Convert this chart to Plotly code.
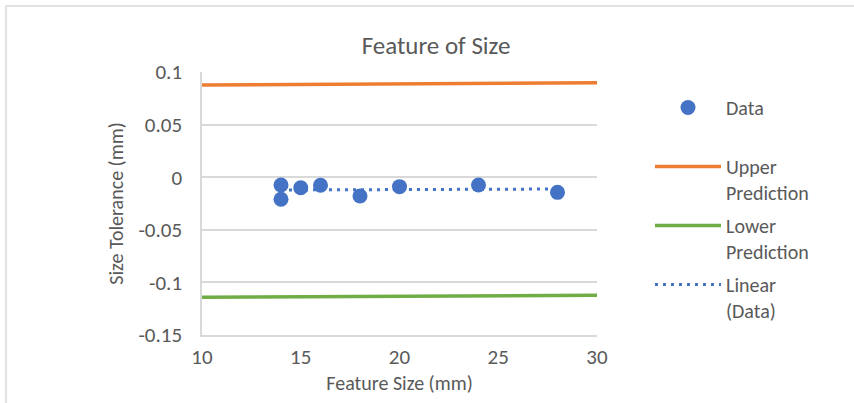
import numpy as np
import plotly.graph_objects as go

# Data
feature_size = [14, 14, 15, 16, 18, 20, 24, 28]
size_tol = [-0.0074, -0.0210, -0.0100, -0.0077, -0.0179, -0.0090, -0.0074, -0.0144]

upper_x = [10, 30]
upper_y = [0.0876, 0.0898]
lower_x = [10, 30]
lower_y = [-0.1142, -0.1123]

x_ticks = [10, 15, 20, 25, 30]
y_ticks = [0.1, 0.05, 0, -0.05, -0.1, -0.15]
y_tick_labels = ["0.1", "0.05", "0", "-0.05", "-0.1", "-0.15"]

# Linear trendline of the data (as Excel computes it)
slope, intercept = np.polyfit(feature_size, size_tol, 1)
trend_x = [min(feature_size), max(feature_size)]
trend_y = [slope * x + intercept for x in trend_x]

FONT = "Calibri, Carlito, Lato, sans-serif"
TXT = "#595959"
GRID = "#d9d9d9"

fig = go.Figure()
fig.add_trace(go.Scatter(x=feature_size, y=size_tol, mode="markers", name="Data<br> ",
                         marker=dict(color="#4472C4", size=15), legendgroup="a"))
fig.add_trace(go.Scatter(x=upper_x, y=upper_y, mode="lines", name="Upper<br>Prediction",
                         line=dict(color="#ED7D31", width=3.5), legendgroup="b"))
fig.add_trace(go.Scatter(x=lower_x, y=lower_y, mode="lines", name="Lower<br>Prediction",
                         line=dict(color="#70AD47", width=3.5), legendgroup="c"))
fig.add_trace(go.Scatter(x=trend_x, y=trend_y, mode="lines", name="Linear<br>(Data)",
                         line=dict(color="#4472C4", width=3, dash="3px,5px"), legendgroup="d"))

fig.update_layout(
    width=854, height=403,
    margin=dict(l=202, r=257, t=72, b=68, autoexpand=False),
    paper_bgcolor="white", plot_bgcolor="white",
    font=dict(family=FONT, color=TXT, size=20),
    title=dict(text="Feature of Size", x=436 / 854, xanchor="center",
               y=1 - 45 / 403, yanchor="middle", yref="container", automargin=False,
               font=dict(size=25, color=TXT, family=FONT)),
    showlegend=True,
    legend=dict(x=(650 - 202) / 395, xanchor="left", y=(335 - 88) / 263, yanchor="top",
                font=dict(size=20, color=TXT, family=FONT), itemwidth=66,
                valign="top", tracegroupgap=4, bgcolor="rgba(0,0,0,0)"),
    xaxis=dict(range=[10, 30], tickvals=x_ticks, showgrid=False, zeroline=False,
               showline=True, linecolor=GRID, linewidth=1.5, automargin=False,
               ticks="outside", ticklen=2, tickcolor="rgba(0,0,0,0)",
               tickfont=dict(size=21, color=TXT),
               title=dict(text="Feature Size (mm)", font=dict(size=20, color=TXT), standoff=7)),
    yaxis=dict(range=[-0.15, 0.1], tickvals=y_ticks, ticktext=y_tick_labels,
               showgrid=True, gridcolor=GRID, gridwidth=1.5, zeroline=False,
               showline=True, linecolor=GRID, linewidth=1.5, automargin=False,
               ticks="", ticklabelstandoff=14, tickfont=dict(size=21, color=TXT),
               title=dict(text="Size Tolerance (mm)", font=dict(size=20, color=TXT), standoff=9)),
    shapes=[dict(type="rect", xref="paper", yref="paper",
                 x0=(6 - 202) / 395, x1=(870 - 202) / 395,
                 y0=(335 - 420) / 263, y1=(335 - 6) / 263,
                 line=dict(color=GRID, width=1.5), fillcolor="rgba(0,0,0,0)", layer="below")],
)

fig.write_html("out.html", config={"displayModeBar": False},
               post_script="document.body.style.margin='0';document.body.style.overflow='hidden';")
